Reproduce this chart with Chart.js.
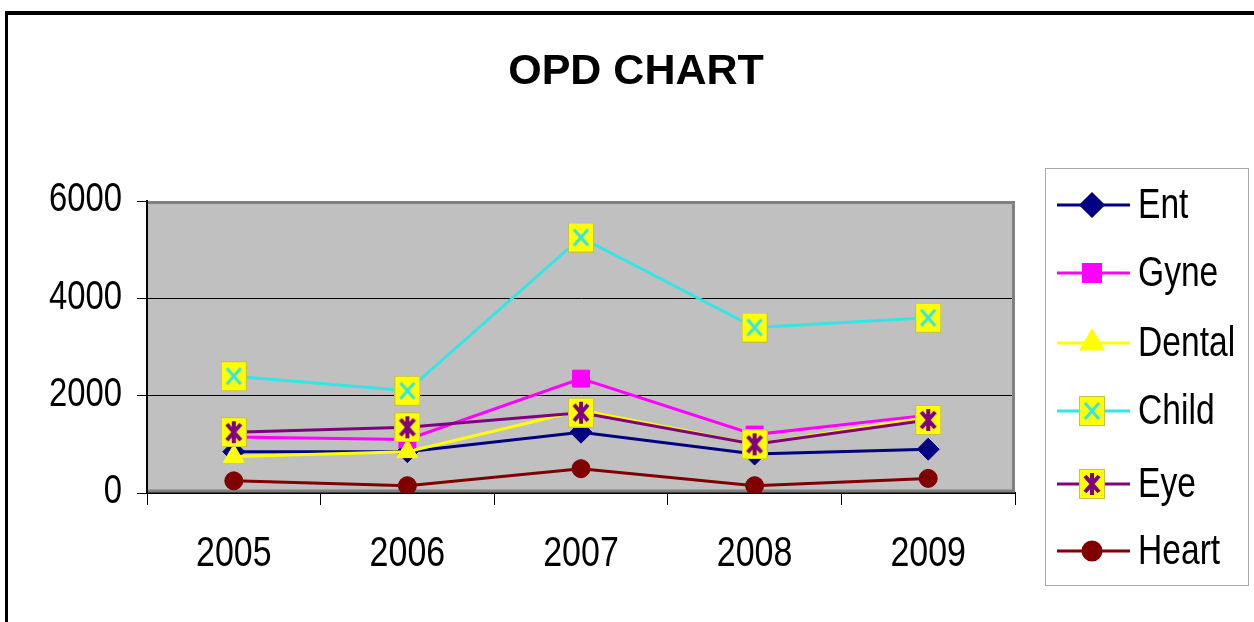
<!DOCTYPE html>
<html>
<head>
<meta charset="utf-8">
<script src="https://cdn.jsdelivr.net/npm/chart.js@4.4.1/dist/chart.umd.min.js"></script>
<style>
  html, body { margin: 0; padding: 0; background: #fff; overflow: hidden; }
</style>
</head>
<body>
<canvas id="opdChart" width="1254" height="622"></canvas>
<script>
// data
const years = ['2005', '2006', '2007', '2008', '2009'];
const ent = [850, 850, 1250, 800, 900];
const gyne = [1150, 1100, 2350, 1200, 1600];
const dental = [750, 850, 1700, 1000, 1550];
const child = [2400, 2100, 5250, 3400, 3600];
const eye = [1250, 1350, 1650, 1000, 1500];
const heart = [250, 150, 500, 150, 300];
const yTicks = [0, 2000, 4000, 6000];

const seriesNames = ['Ent', 'Gyne', 'Dental', 'Child', 'Eye', 'Heart'];
const seriesValues = [ent, gyne, dental, child, eye, heart];
const seriesColors = ['#000080', '#ff00ff', '#ffff00', '#33e6e6', '#800080', '#800000'];

const SANS = '"Liberation Sans", Arial, sans-serif';

// the original text is a condensed face, so squeeze it horizontally
function narrowText(ctx, text, x, y, size, align, squeeze) {
    ctx.save();
    ctx.font = size + 'px ' + SANS;
    ctx.textAlign = align;
    ctx.textBaseline = 'middle';
    ctx.fillStyle = '#000';
    ctx.translate(x, y);
    ctx.scale(squeeze, 1);
    ctx.fillText(text, 0, 0);
    ctx.restore();
}

// yellow box markers (Child / Eye)
function boxMarker(kind, color) {
    const c = document.createElement('canvas');
    c.width = 26; c.height = 30;
    const g = c.getContext('2d');
    g.fillStyle = '#ffff00';
    g.fillRect(0, 0, 26, 30);
    g.strokeStyle = '#c8c050';
    g.lineWidth = 1;
    g.strokeRect(0.5, 0.5, 25, 29);
    g.strokeStyle = color;
    g.lineWidth = kind === 'star' ? 4 : 3;
    g.beginPath();
    g.moveTo(6, 7); g.lineTo(20, 23);
    g.moveTo(20, 7); g.lineTo(6, 23);
    if (kind === 'star') { g.moveTo(13, 4); g.lineTo(13, 26); }
    g.stroke();
    return c;
}

const pointStyles = ['rectRot', 'rect', 'triangle', boxMarker('x', '#33e6e6'), boxMarker('star', '#800080'), 'circle'];
const pointRadii = [11, 12, 12, 13, 13, 9];

const datasets = seriesNames.map((name, i) => ({
    label: name,
    data: seriesValues[i],
    borderColor: seriesColors[i],
    backgroundColor: seriesColors[i],
    borderWidth: 3,
    pointStyle: pointStyles[i],
    pointRadius: pointRadii[i],
    pointHoverRadius: pointRadii[i],
    pointBackgroundColor: seriesColors[i],
    pointBorderColor: seriesColors[i],
    pointBorderWidth: 1,
    tension: 0,
    order: seriesNames.length - i // later series on top, like the original
}));

const decor = {
    id: 'decor',
    beforeDraw(chart) {
        const { ctx, chartArea: a } = chart;
        ctx.save();
        ctx.fillStyle = '#fff';
        ctx.fillRect(0, 0, chart.width, chart.height);
        // outer frame
        ctx.fillStyle = '#000';
        ctx.fillRect(5, 11, chart.width - 5, 4);
        ctx.fillRect(5, 11, 3, chart.height - 11);
        // plot background
        ctx.fillStyle = '#c0c0c0';
        ctx.fillRect(a.left, a.top, a.right - a.left, a.bottom - a.top);
        // title
        ctx.fillStyle = '#000';
        ctx.font = 'bold 43px ' + SANS;
        ctx.textAlign = 'center';
        ctx.textBaseline = 'middle';
        ctx.fillText('OPD CHART', 636, 72);
        ctx.restore();
    },
    beforeDatasetsDraw(chart) {
        const { ctx, chartArea: a } = chart;
        ctx.save();
        ctx.strokeStyle = '#808080';
        ctx.lineWidth = 3;
        ctx.beginPath();
        ctx.moveTo(a.left + 1, a.top + 1.5);
        ctx.lineTo(a.right - 1.5, a.top + 1.5);
        ctx.lineTo(a.right - 1.5, a.bottom - 2);
        ctx.lineTo(a.left + 1, a.bottom - 2);
        ctx.stroke();
        ctx.restore();
    },
    afterDraw(chart) {
        const ctx = chart.ctx;
        const xs = chart.scales.x, ys = chart.scales.y;
        // tick labels, placed by the scales
        years.forEach((lab, i) => narrowText(ctx, lab, xs.getPixelForValue(i), 554, 43, 'center', 0.79));
        yTicks.forEach(v => narrowText(ctx, String(v), 122, ys.getPixelForValue(v) - 1, 41, 'right', 0.8));

        ctx.save();
        // legend box
        ctx.strokeStyle = '#a8a8a8';
        ctx.lineWidth = 1;
        ctx.strokeRect(1045.5, 168.5, 203, 417);
        const rowY = [205, 273, 343, 411, 484, 551];
        chart.data.datasets.forEach((ds, i) => {
            const y = rowY[i];
            ctx.strokeStyle = ds.borderColor;
            ctx.lineWidth = 3;
            ctx.beginPath();
            ctx.moveTo(1057, y);
            ctx.lineTo(1130, y);
            ctx.stroke();
            if (typeof ds.pointStyle === 'string') {
                ctx.fillStyle = ds.pointBackgroundColor;
                ctx.strokeStyle = ds.pointBorderColor;
                Chart.helpers.drawPoint(ctx, { pointStyle: ds.pointStyle, radius: ds.pointRadius, rotation: 0, borderWidth: 1 }, 1092, y);
            } else {
                const img = ds.pointStyle;
                ctx.drawImage(img, 1092 - img.width / 2, y - img.height / 2);
            }
            narrowText(ctx, ds.label, 1138, y + 1, 42, 'left', 0.8);
        });
        ctx.restore();
    }
};

new Chart(document.getElementById('opdChart'), {
    type: 'line',
    data: { labels: years, datasets: datasets },
    options: {
        responsive: false,
        animation: false,
        events: [],
        layout: { padding: { left: 0, top: 201, right: 239, bottom: 49 } },
        plugins: {
            legend: { display: false },
            title: { display: false },
            tooltip: { enabled: false }
        },
        scales: {
            x: {
                type: 'category',
                offset: true,
                grid: { offset: true, drawOnChartArea: false, color: '#000', lineWidth: 1, tickLength: 12 },
                border: { color: '#000', width: 2 },
                ticks: { display: false },
                afterFit: (s) => { s.height = 80; }
            },
            y: {
                min: yTicks[0],
                max: yTicks[yTicks.length - 1],
                afterBuildTicks: (s) => { s.ticks = yTicks.map(v => ({ value: v })); },
                grid: { color: '#000', lineWidth: 1, tickLength: 10 },
                border: { color: '#000', width: 2 },
                ticks: { display: false },
                afterFit: (s) => { s.width = 147; }
            }
        }
    },
    plugins: [decor]
});
</script>
</body>
</html>
